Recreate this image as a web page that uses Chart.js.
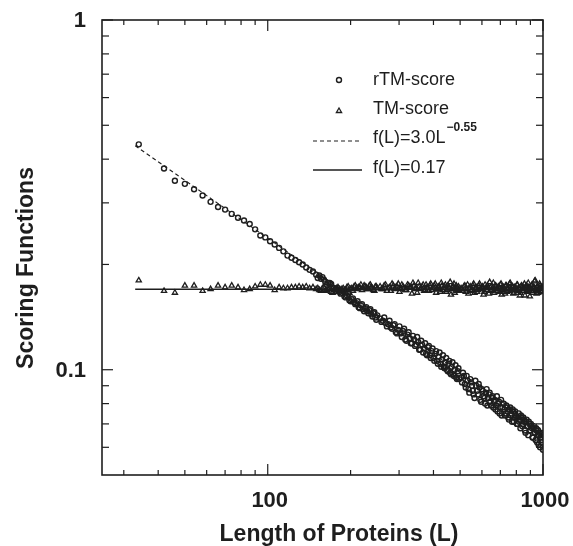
<!DOCTYPE html>
<html>
<head>
<meta charset="utf-8">
<script src="https://cdn.jsdelivr.net/npm/chart.js@4.4.1/dist/chart.umd.min.js"></script>
<style>
  html, body { margin: 0; padding: 0; background: #fff; }
  #wrap { width: 573px; height: 546px; position: relative; }
</style>
</head>
<body>
<div id="wrap"><canvas id="scoreChart"></canvas></div>
<script>
// protein lengths (L), shared by both scores
const lengths = [
  34, 42, 46, 50, 54, 58, 62, 66, 70, 74, 78, 82, 86, 90, 94,
  98, 102, 106, 110, 114, 118, 122, 126, 130, 134, 138, 142, 146, 150,
  154, 158, 162, 166, 170, 174, 178, 182, 186, 190, 194, 198, 202, 206, 210,
  214, 218, 222, 226, 230, 234, 238, 242, 246, 250,
  256, 262, 268, 274, 280, 286, 292, 298, 304, 310, 316, 322, 328, 334, 340,
  346, 352, 358, 364, 370, 376, 382, 388, 394, 400, 406, 412, 418, 424, 430,
  436, 442, 448, 454, 460, 466, 472, 478, 484, 490, 496,
  504, 512, 520, 528, 536, 544, 552, 560, 568, 576, 584, 592, 600, 608, 616,
  624, 632, 640, 648, 656, 664, 672, 680, 688, 696, 704, 712, 720, 728, 736,
  744, 752, 760, 768, 776, 784, 792, 800, 808, 816, 824, 832, 840, 848, 856,
  864, 872, 880, 888, 896, 904, 912, 920, 928, 936, 944, 952, 960, 968, 976,
  984, 992, 1000
];

// rTM-score (circles)
const rtmScore = [
  0.441, 0.376, 0.347, 0.340, 0.328, 0.315, 0.302, 0.292, 0.287, 0.279, 0.272, 0.267, 0.261, 0.252, 0.242,
  0.239, 0.233, 0.228, 0.223, 0.218, 0.212, 0.209, 0.206, 0.203, 0.200, 0.196, 0.193, 0.191, 0.187,
  0.186, 0.184, 0.178, 0.177, 0.176, 0.171, 0.168, 0.167, 0.166, 0.162, 0.163, 0.158, 0.159, 0.156, 0.155,
  0.151, 0.153, 0.149, 0.150, 0.147, 0.148, 0.144, 0.145, 0.141, 0.143,
  0.140, 0.138, 0.136, 0.135, 0.132, 0.134, 0.128, 0.130, 0.127, 0.129, 0.122, 0.126, 0.123, 0.119, 0.122,
  0.118, 0.120, 0.114, 0.118, 0.115, 0.111, 0.116, 0.110, 0.113, 0.108, 0.111, 0.106, 0.109, 0.104, 0.107,
  0.102, 0.105, 0.100, 0.104, 0.098, 0.102, 0.097, 0.100, 0.095, 0.099, 0.094,
  0.095, 0.098, 0.091, 0.096, 0.088, 0.094, 0.090, 0.085, 0.093, 0.087, 0.091, 0.082, 0.088, 0.084, 0.080,
  0.088, 0.083, 0.086, 0.079, 0.084, 0.081, 0.077, 0.084, 0.080, 0.075, 0.082, 0.078, 0.080, 0.074, 0.079,
  0.076, 0.072, 0.078, 0.075, 0.077, 0.071, 0.076, 0.073, 0.070, 0.075, 0.072, 0.074, 0.069, 0.073, 0.071,
  0.066, 0.072, 0.069, 0.071, 0.067, 0.070, 0.068, 0.064, 0.069, 0.066, 0.068, 0.062, 0.067, 0.065, 0.060,
  0.066, 0.063, 0.059
];

// TM-score (triangles)
const tmScore = [
  0.180, 0.168, 0.166, 0.174, 0.174, 0.168, 0.170, 0.174, 0.172, 0.174, 0.172, 0.169, 0.170, 0.173, 0.175,
  0.175, 0.174, 0.169, 0.172, 0.171, 0.171, 0.172, 0.172, 0.173, 0.172, 0.173, 0.171, 0.172, 0.170,
  0.169, 0.171, 0.168, 0.170, 0.167, 0.169, 0.171, 0.168, 0.170, 0.169, 0.172, 0.166, 0.171, 0.173, 0.170,
  0.172, 0.175, 0.171, 0.173, 0.170, 0.174, 0.172, 0.169, 0.173, 0.171,
  0.173, 0.170, 0.175, 0.171, 0.168, 0.174, 0.172, 0.176, 0.170, 0.173, 0.169, 0.175, 0.172, 0.165, 0.174,
  0.171, 0.177, 0.170, 0.173, 0.168, 0.175, 0.171, 0.174, 0.169, 0.172, 0.176, 0.170, 0.173, 0.167, 0.174,
  0.171, 0.175, 0.169, 0.172, 0.178, 0.170, 0.173, 0.166, 0.174, 0.171, 0.169,
  0.171, 0.168, 0.174, 0.170, 0.165, 0.173, 0.169, 0.176, 0.171, 0.167, 0.174, 0.170, 0.172, 0.164, 0.175,
  0.169, 0.172, 0.178, 0.168, 0.171, 0.166, 0.174, 0.170, 0.173, 0.167, 0.176, 0.169, 0.172, 0.165, 0.174,
  0.171, 0.168, 0.177, 0.170, 0.173, 0.166, 0.172, 0.169, 0.175, 0.171, 0.163, 0.173, 0.170, 0.168, 0.176,
  0.171, 0.174, 0.167, 0.172, 0.162, 0.170, 0.175, 0.168, 0.172, 0.180, 0.169, 0.173, 0.166, 0.171, 0.174,
  0.168, 0.172, 0.170
];

// in-between lengths where the band is packed tight
const lengthsB = [
  152, 156, 160, 164, 168, 172, 176, 180, 184, 188, 192, 196, 200, 204, 208,
  212, 216, 220, 224, 228, 232, 236, 240, 244, 248,
  259, 265, 271, 277, 283, 289, 295, 301, 307, 313, 319, 325, 331, 337, 343,
  349, 355, 361, 367, 373, 379, 385, 391, 397, 403, 409, 415, 421, 427, 433,
  439, 445, 451, 457, 463, 469, 475, 481, 487, 493,
  508, 516, 524, 532, 540, 548, 556, 564, 572, 580, 588, 596, 604, 612, 620,
  628, 636, 644, 652, 660, 668, 676, 684, 692, 700, 708, 716, 724, 732, 740,
  748, 756, 764, 772, 780, 788, 796, 804, 812, 820, 828, 836, 844, 852, 860,
  868, 876, 884, 892, 900, 908, 916, 924, 932, 940, 948, 956, 964, 972, 980,
  988, 996
];

const rtmScoreB = [
  0.183, 0.182, 0.181, 0.175, 0.177, 0.172, 0.170, 0.171, 0.165, 0.168, 0.161, 0.165, 0.157, 0.160, 0.154,
  0.157, 0.150, 0.154, 0.147, 0.151, 0.145, 0.149, 0.142, 0.146, 0.139,
  0.137, 0.141, 0.133, 0.138, 0.131, 0.135, 0.127, 0.133, 0.124, 0.131, 0.121, 0.128, 0.119, 0.125, 0.117,
  0.124, 0.114, 0.121, 0.112, 0.119, 0.110, 0.117, 0.108, 0.115, 0.106, 0.113, 0.104, 0.112, 0.102, 0.110,
  0.101, 0.108, 0.099, 0.106, 0.097, 0.105, 0.096, 0.103, 0.094, 0.101,
  0.092, 0.096, 0.089, 0.093, 0.086, 0.092, 0.087, 0.083, 0.090, 0.085, 0.089, 0.081, 0.087, 0.083, 0.086,
  0.079, 0.085, 0.081, 0.083, 0.078, 0.082, 0.079, 0.076, 0.081, 0.078, 0.074, 0.080, 0.077, 0.075, 0.078,
  0.073, 0.077, 0.074, 0.071, 0.076, 0.073, 0.074, 0.070, 0.073, 0.071, 0.068, 0.073, 0.070, 0.072, 0.067,
  0.071, 0.069, 0.065, 0.070, 0.067, 0.069, 0.064, 0.068, 0.066, 0.063, 0.067, 0.065, 0.061, 0.066, 0.064,
  0.062, 0.065
];

const tmScoreB = [
  0.171, 0.168, 0.172, 0.169, 0.171, 0.166, 0.170, 0.172, 0.168, 0.171, 0.169, 0.173, 0.170, 0.168, 0.174,
  0.171, 0.172, 0.169, 0.174, 0.172, 0.170, 0.175, 0.171, 0.168, 0.173,
  0.170, 0.174, 0.168, 0.172, 0.176, 0.170, 0.173, 0.167, 0.175, 0.171, 0.169, 0.174, 0.172, 0.177, 0.170,
  0.166, 0.173, 0.171, 0.175, 0.169, 0.172, 0.168, 0.176, 0.171, 0.174, 0.166, 0.172, 0.170, 0.177, 0.169,
  0.173, 0.167, 0.174, 0.171, 0.164, 0.172, 0.176, 0.170, 0.168, 0.173,
  0.170, 0.173, 0.167, 0.175, 0.171, 0.168, 0.174, 0.166, 0.172, 0.169, 0.176, 0.170, 0.173, 0.167, 0.171,
  0.174, 0.165, 0.172, 0.169, 0.177, 0.170, 0.173, 0.168, 0.171, 0.175, 0.164, 0.172, 0.170, 0.174, 0.167,
  0.171, 0.176, 0.169, 0.173, 0.165, 0.172, 0.170, 0.175, 0.168, 0.171, 0.166, 0.174, 0.170, 0.172, 0.163,
  0.173, 0.169, 0.177, 0.168, 0.171, 0.174, 0.166, 0.172, 0.179, 0.170, 0.165, 0.173, 0.168, 0.176, 0.171,
  0.167, 0.172
];

// fitted lines, end points
const powerFitL = [33, 1000];
const powerFitV = [0.437, 0.0671];
const flatFitL = [33, 1000];
const flatFitV = [0.17, 0.17];

// axis ticks
const xMajor = [100, 1000];
const xMinor = [30, 40, 50, 60, 70, 80, 90, 200, 300, 400, 500, 600, 700, 800, 900];
const yMajor = [0.1, 1];
const yMinor = [0.06, 0.07, 0.08, 0.09, 0.2, 0.3, 0.4, 0.5, 0.6, 0.7, 0.8, 0.9];

const INK = '#1e1e1e';
const FONT = '"Liberation Sans", Arial, Helvetica, sans-serif';

function pairs(xs, ys) {
  return xs.map((x, i) => ({ x: x, y: ys[i] }));
}

//---frame, inward ticks, labels, titles and legend---
const framePlugin = {
  id: 'frame',
  afterDraw(chart) {
    const ctx = chart.ctx;
    const a = chart.chartArea;
    const xs = chart.scales.x;
    const ys = chart.scales.y;
    ctx.save();
    ctx.strokeStyle = INK;
    ctx.fillStyle = INK;
    ctx.lineWidth = 1.6;
    ctx.strokeRect(a.left, a.top, a.right - a.left, a.bottom - a.top);

    function seg(x1, y1, x2, y2) {
      ctx.beginPath(); ctx.moveTo(x1, y1); ctx.lineTo(x2, y2); ctx.stroke();
    }
    ctx.lineWidth = 1.2;
    xMinor.forEach(v => {
      const p = xs.getPixelForValue(v);
      seg(p, a.bottom, p, a.bottom - 5);
      seg(p, a.top, p, a.top + 5);
    });
    xMajor.forEach(v => {
      const p = xs.getPixelForValue(v);
      seg(p, a.bottom, p, a.bottom - 11);
      seg(p, a.top, p, a.top + 11);
    });
    yMinor.forEach(v => {
      const p = ys.getPixelForValue(v);
      seg(a.left, p, a.left + 7, p);
      seg(a.right, p, a.right - 7, p);
    });
    yMajor.forEach(v => {
      const p = ys.getPixelForValue(v);
      seg(a.left, p, a.left + 11, p);
      seg(a.right, p, a.right - 11, p);
    });

    // tick labels
    ctx.font = 'bold 22px ' + FONT;
    ctx.textAlign = 'center';
    ctx.textBaseline = 'middle';
    xMajor.forEach(v => {
      ctx.fillText(String(v), xs.getPixelForValue(v) + 2, a.bottom + 26);
    });
    ctx.textAlign = 'right';
    yMajor.forEach(v => {
      ctx.fillText(String(v), a.left - 16, ys.getPixelForValue(v) + 1);
    });

    // axis titles
    ctx.font = 'bold 23px ' + FONT;
    ctx.textAlign = 'center';
    ctx.textBaseline = 'alphabetic';
    ctx.fillText('Length of Proteins (L)', 339, 541);
    ctx.save();
    ctx.translate(33, 268);
    ctx.rotate(-Math.PI / 2);
    ctx.fillText('Scoring Functions', 0, 0);
    ctx.restore();

    // legend
    const ds = chart.data.datasets;
    const mx = 339, tx = 373;
    ctx.font = '18px ' + FONT;
    ctx.textAlign = 'left';
    ctx.textBaseline = 'middle';
    ctx.fillStyle = 'rgba(0,0,0,0)';
    [0, 1].forEach((i, k) => {
      const d = ds[i];
      ctx.strokeStyle = d.borderColor;
      ctx.lineWidth = d.borderWidth;
      Chart.helpers.drawPoint(ctx, {
        pointStyle: d.pointStyle, radius: d.pointRadius, borderWidth: d.borderWidth, rotation: 0
      }, mx, k === 0 ? 80 : 111);
    });
    ctx.fillStyle = INK;
    ctx.fillText(ds[0].label, tx, 80);
    ctx.fillText(ds[1].label, tx, 109);

    ctx.strokeStyle = INK;
    ctx.lineWidth = ds[2].borderWidth;
    ctx.setLineDash(ds[2].borderDash);
    seg(313, 141, 362, 141);
    ctx.setLineDash([]);
    ctx.lineWidth = ds[3].borderWidth;
    seg(313, 170, 362, 170);

    const main = 'f(L)=3.0L';
    ctx.fillText(main, tx, 138);
    const w = ctx.measureText(main).width;
    ctx.font = 'bold 12px ' + FONT;
    ctx.fillText('\u22120.55', tx + w + 1, 128);
    ctx.font = '18px ' + FONT;
    ctx.fillText('f(L)=0.17', tx, 168);
    ctx.restore();
  }
};

const CHART = document.getElementById('scoreChart');
let scoreChart = new Chart(CHART, {
  type: 'scatter',
  data: {
    datasets: [
      {
        label: 'rTM-score',
        data: pairs(lengths, rtmScore).concat(pairs(lengthsB, rtmScoreB)),
        pointStyle: 'circle',
        pointRadius: 2.5,
        borderWidth: 1.4,
        borderColor: INK,
        backgroundColor: 'rgba(0,0,0,0)',
        showLine: false
      },
      {
        label: 'TM-score',
        data: pairs(lengths, tmScore).concat(pairs(lengthsB, tmScoreB)),
        pointStyle: 'triangle',
        pointRadius: 3,
        borderWidth: 1.3,
        borderColor: INK,
        backgroundColor: 'rgba(0,0,0,0)',
        showLine: false
      },
      {
        label: 'f(L)=3.0L^-0.55',
        data: pairs(powerFitL, powerFitV),
        showLine: true,
        pointRadius: 0,
        borderWidth: 1.1,
        borderDash: [4, 3],
        borderColor: INK
      },
      {
        label: 'f(L)=0.17',
        data: pairs(flatFitL, flatFitV),
        showLine: true,
        pointRadius: 0,
        borderWidth: 1.5,
        borderColor: INK
      }
    ]
  },
  options: {
    responsive: true,
    maintainAspectRatio: false,
    animation: false,
    layout: { padding: { left: 102, top: 20, right: 30, bottom: 71 } },
    scales: {
      x: { type: 'logarithmic', min: 25, max: 1000, display: false },
      y: { type: 'logarithmic', min: 0.05, max: 1, display: false }
    },
    plugins: {
      legend: { display: false },
      tooltip: { enabled: false }
    }
  },
  plugins: [framePlugin]
});
</script>
</body>
</html>
